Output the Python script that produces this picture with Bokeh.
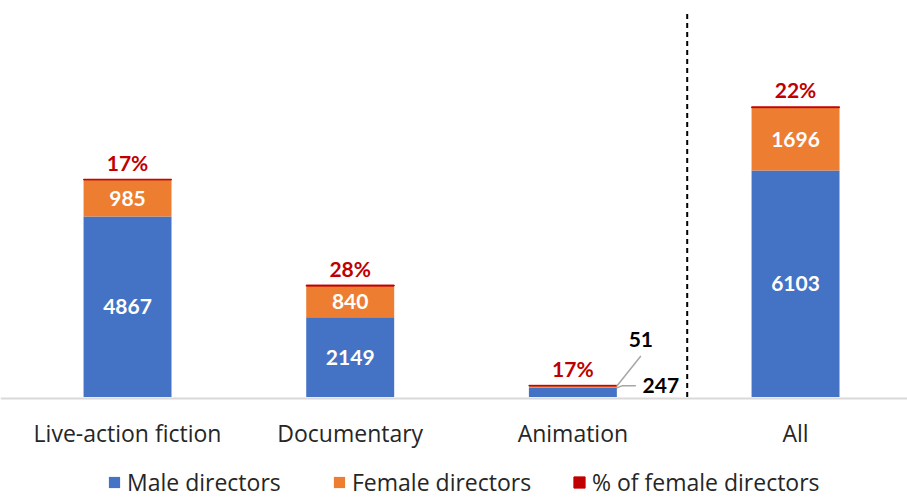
from bokeh.plotting import figure
from bokeh.models import Range1d, Span, Legend, LegendItem, ColumnDataSource
from bokeh.core.properties import value
from bokeh.embed import file_html
from bokeh.resources import INLINE

categories = ["Live-action fiction", "Documentary", "Animation", "All"]
male = [4867, 2149, 247, 6103]
female = [985, 840, 51, 1696]
pct = [17, 28, 17, 22]
pct_labels = ["17%", "28%", "17%", "22%"]

MALE_C = "#4472C4"
FEMALE_C = "#ED7D31"
PCT_C = "#C00000"
TEXT_C = "#262626"
NUM_FONT = "Lato"
CAT_FONT = "Open Sans"

W, H = 907, 498
PX_X = 222.67           # pixels per category
PX_Y = 0.0371           # pixels per director
BASE = 396.5            # pixel row of value 0
X0 = -15.7 / PX_X
X1 = X0 + W / PX_X
Y1 = BASE / PX_Y
Y0 = -(H - BASE) / PX_Y
BAR_W = 0.395

xs = [i + 0.5 for i in range(len(categories))]
total = [m + f for m, f in zip(male, female)]
top = [t + p for t, p in zip(total, pct)]

p = figure(width=W, height=H, x_range=Range1d(X0, X1), y_range=Range1d(Y0, Y1),
           output_backend="svg", toolbar_location=None,
           min_border_left=0, min_border_right=0, min_border_top=0, min_border_bottom=0)
p.outline_line_color = None
p.grid.visible = False
p.axis.visible = False
p.background_fill_color = "white"
p.border_fill_color = "white"

src = ColumnDataSource(dict(x=xs, male=male, female=female, total=total, top=top,
                            zero=[0] * len(xs)))

r_m = p.vbar(x="x", bottom="zero", top="male", width=BAR_W, source=src,
             fill_color=MALE_C, line_color=None)
r_f = p.vbar(x="x", bottom="male", top="total", width=BAR_W, source=src,
             fill_color=FEMALE_C, line_color=None)
r_p = p.vbar(x="x", bottom="total", top="top", width=BAR_W, source=src,
             fill_color=PCT_C, line_color=PCT_C, line_width=1)

# baseline (category axis line)
p.add_layout(Span(location=-1.5 / PX_Y, dimension="width", line_color="#D9D9D9",
                  line_width=2, level="underlay"))

# separator dashed line between Animation and All
sep_x = 3.0 + 3 / PX_X
p.segment(x0=[sep_x], y0=[0], x1=[sep_x], y1=[(BASE - 13) / PX_Y],
          line_color="black", line_width=2, line_dash="5 4")

# labels inside bars (Animation segments are too thin: use callouts)
inside_idx = [0, 1, 3]
p.text(x=[xs[i] for i in inside_idx], y=[male[i] / 2 for i in inside_idx],
       text=[str(male[i]) for i in inside_idx], text_align="center", text_baseline="middle",
       text_color="white", text_font=value(NUM_FONT), text_font_style="bold",
       text_font_size="21px")
p.text(x=[xs[i] for i in inside_idx], y=[male[i] + female[i] / 2 for i in inside_idx],
       text=[str(female[i]) for i in inside_idx], text_align="center", text_baseline="middle",
       text_color="white", text_font=value(NUM_FONT), text_font_style="bold",
       text_font_size="21px")

# percentage labels
p.text(x=xs, y=[t + 17 / PX_Y for t in top], text=pct_labels, text_align="center",
       text_baseline="middle", text_color=PCT_C, text_font=value(NUM_FONT),
       text_font_style="bold", text_font_size="21px")

# Animation callouts
ai = 2
right = xs[ai] + BAR_W / 2
p.segment(x0=[right], y0=[total[ai]], x1=[right + 24 / PX_X], y1=[total[ai] + 30 / PX_Y],
          line_color="#A6A6A6", line_width=1.5)
p.line(x=[right, right + 5 / PX_X, right + 19 / PX_X],
       y=[male[ai], male[ai] + 2 / PX_Y, male[ai] + 2 / PX_Y],
       line_color="#A6A6A6", line_width=1.5)
p.text(x=[right + 24 / PX_X], y=[total[ai] + 46.5 / PX_Y], text=[str(female[ai])],
       text_align="center", text_baseline="middle", text_color="black",
       text_font=value(NUM_FONT), text_font_style="bold", text_font_size="21px")
p.text(x=[right + 44 / PX_X], y=[male[ai] + 2 / PX_Y], text=[str(male[ai])],
       text_align="center", text_baseline="middle", text_color="black",
       text_font=value(NUM_FONT), text_font_style="bold", text_font_size="21px")

# category labels
p.text(x=xs, y=[-(432 - BASE) / PX_Y] * len(xs), text=categories, text_align="center",
       text_baseline="middle", text_color=TEXT_C, text_font=value(CAT_FONT),
       text_font_size="23px")

# legends
legend_specs = [("Male directors", r_m, 107), ("Female directors", r_f, 332),
                ("% of female directors", r_p, 572)]
for lab, rend, lx in legend_specs:
    lg = Legend(items=[LegendItem(label=lab, renderers=[rend])], location=(lx, 0),
                orientation="horizontal", border_line_color=None, background_fill_alpha=0,
                padding=0, margin=0, glyph_width=14, glyph_height=14, label_standoff=6,
                label_text_font=CAT_FONT, label_text_font_size="23px",
                label_text_color=TEXT_C, label_height=22, label_text_baseline="middle")
    p.add_layout(lg, "center")

open("out.html", "w").write(file_html(p, INLINE))
